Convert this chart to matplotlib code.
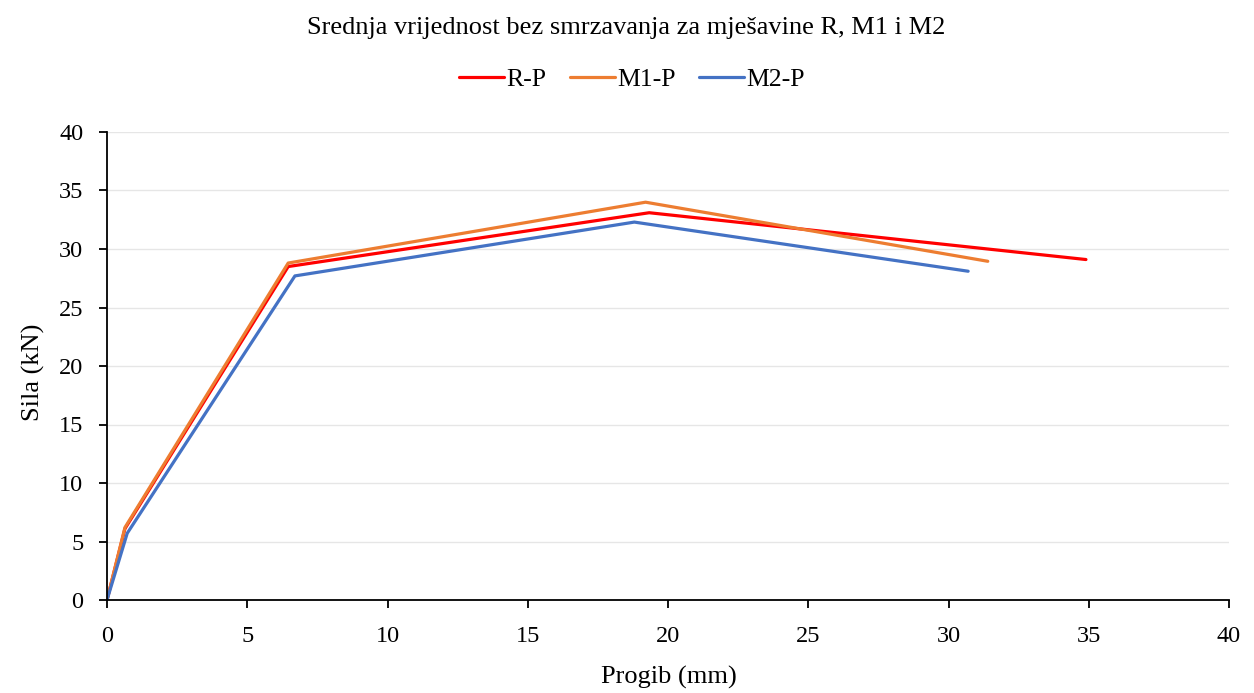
import matplotlib
matplotlib.use("Agg")
import matplotlib.pyplot as plt

plt.rcParams['font.family'] = ['Liberation Serif', 'DejaVu Serif']

labels = ["R-P", "M1-P", "M2-P"]
colors = ["#FF0000", "#ED7D31", "#4472C4"]
r_x = [0, 0.64, 6.46, 19.33, 34.9]
r_y = [0, 6.1, 28.5, 33.1, 29.1]
m1_x = [0, 0.64, 6.46, 19.2, 31.4]
m1_y = [0, 6.2, 28.8, 34.0, 28.95]
m2_x = [0, 0.72, 6.7, 18.8, 30.7]
m2_y = [0, 5.7, 27.7, 32.3, 28.1]
series = [(r_x, r_y), (m1_x, m1_y), (m2_x, m2_y)]

W, H = 1254, 693
fig = plt.figure(figsize=(W/100, H/100), dpi=100)
ax = fig.add_axes([107/W, 1-600/H, (1229-107)/W, (600-132)/H])

for (xs, ys), lab, c in zip(series, labels, colors):
    ax.plot(xs, ys, color=c, lw=2.3, label=lab, solid_capstyle='round')

ax.set_xlim(0, 40)
ax.set_ylim(0, 40)
ax.set_xticks(range(0, 41, 5))
ax.set_yticks(range(0, 41, 5))
ax.grid(axis='y', color='#E6E6E6', lw=1)
ax.set_axisbelow(True)
for s in ['top', 'right']:
    ax.spines[s].set_visible(False)
for s in ['left', 'bottom']:
    ax.spines[s].set_color('black')
    ax.spines[s].set_linewidth(1.3)
ax.tick_params(axis='both', direction='out', length=6, width=1.3, labelsize=17.5, colors='black')
ax.tick_params(axis='x', pad=13)
ax.tick_params(axis='y', pad=11)

fig.text(669/W, 1-677/H, "Progib (mm)", ha='center', va='center', fontsize=19)
fig.text(33/W, 1-372/H, "Sila (kN)", ha='center', va='center', fontsize=19, rotation=90)

fig.text(626/W, 1-28/H, "Srednja vrijednost bez smrzavanja za mješavine R, M1 i M2",
         ha='center', va='center', fontsize=19)
fig.legend(loc='center', bbox_to_anchor=(632/W, 1-80/H), ncol=3, frameon=False,
           fontsize=18.5, handlelength=1.75, columnspacing=0.9, handletextpad=0.1)

fig.savefig("out.png", dpi=100)
